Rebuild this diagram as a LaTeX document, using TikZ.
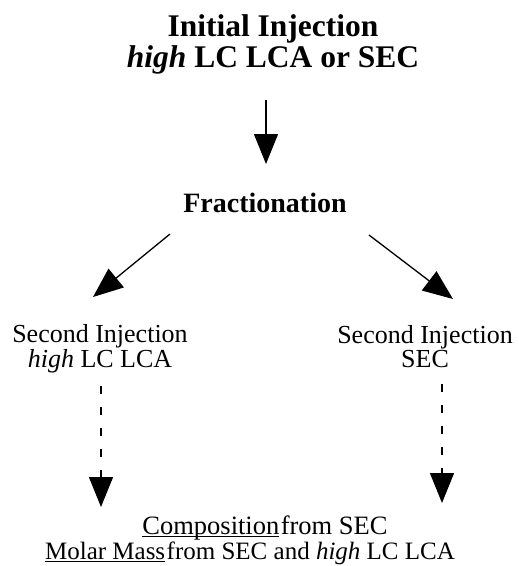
\documentclass[tikz,border=0pt]{standalone}
\usepackage{fontspec}
\setmainfont{Liberation Serif}
\usetikzlibrary{arrows.meta}
\newcommand\myul[1]{\setbox0\hbox{#1}\rlap{\rule[-2.6pt]{\wd0}{1.1pt}}\box0}
\begin{document}
\begin{tikzpicture}[x=1pt,y=-1pt,
  ttl/.style={font=\fontsize{31.5}{31}\selectfont\bfseries, align=center, anchor=base, inner sep=0pt},
  frc/.style={font=\fontsize{28}{28}\selectfont\bfseries, anchor=base, inner sep=0pt},
  lbl/.style={font=\fontsize{26}{21.5}\selectfont, align=center, anchor=base, inner sep=0pt},
  res/.style={font=\fontsize{25}{25}\selectfont, anchor=base, inner sep=0pt},
  arr/.style={line width=1.3pt, -{Triangle[length=30pt,width=24pt]}},
  darr/.style={arr, dash pattern=on 8pt off 13pt}]
\useasboundingbox (0,0) rectangle (519,566);
% title
\node[ttl] (t) at (273,67) {Initial Injection\\\textit{high} LC LCA or SEC};
% fractionation
\node[frc] (fr) at (265,212) {Fractionation};
% second injections
\node[lbl] (l) at (100,367.5) {Second Injection\\\textit{high} LC LCA};
\node[lbl] (r) at (425,367.5) {Second Injection\\SEC};
% result
\node[res, font=\fontsize{26.5}{25}\selectfont] (b1) at (265,534) {\myul{Composition}\hspace{1.5pt}from SEC};
\node[res] (b2) at (250,559) {\myul{Molar Mass}\hspace{1.5pt}from SEC and \textit{high} LC LCA};
% connector end points
\coordinate (a0) at (266,100);
\coordinate (a1) at (266,164);
\coordinate (lA) at (170,234);
\coordinate (lB) at (93,297);
\coordinate (rA) at (369,235);
\coordinate (rB) at (453,299);
\coordinate (dlA) at (101,386);
\coordinate (dlB) at (101,507);
\coordinate (drA) at (442,384);
\coordinate (drB) at (442,503);
% connectors
\draw[arr] (a0) -- (a1);
\draw[arr] (lA) -- (lB);
\draw[arr] (rA) -- (rB);
\draw[darr] (dlA) -- (dlB);
\draw[darr] (drA) -- (drB);
\end{tikzpicture}
\end{document}
